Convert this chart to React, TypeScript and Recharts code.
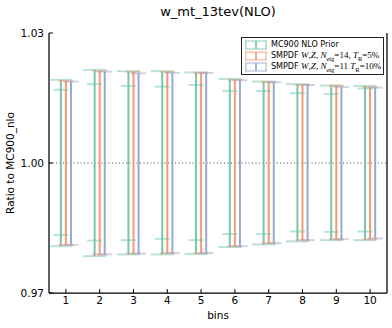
import React from "react";

import { ComposedChart, ErrorBar, Label, Legend, ReferenceLine, Scatter, XAxis, YAxis } from "recharts";

const bins = [1, 2, 3, 4, 5, 6, 7, 8, 9, 10];
const xTicks = [1, 2, 3, 4, 5, 6, 7, 8, 9, 10];
const yTicks = [0.97, 1.0, 1.03];

// MC900 NLO prior: outer band and inner (68%) band
const priorHigh = [1.0192, 1.0215, 1.0212, 1.0212, 1.0209, 1.0194, 1.0188, 1.0182, 1.0179, 1.0178];
const priorLow = [0.9808, 0.9785, 0.9789, 0.9789, 0.979, 0.9806, 0.9812, 0.9819, 0.9822, 0.9822];
const priorInnerHigh = [1.0169, 1.0182, 1.0178, 1.0176, 1.018, 1.0166, 1.0166, 1.0161, 1.0159, 1.0172];
const priorInnerLow = [0.9834, 0.9821, 0.9822, 0.9825, 0.9822, 0.9836, 0.9836, 0.9842, 0.9841, 0.9842];

// SMPDF Neig=14, TR=5%
const n14High = [1.0189, 1.0212, 1.021, 1.021, 1.0208, 1.0192, 1.0187, 1.018, 1.0178, 1.0175];
const n14Low = [0.9811, 0.9789, 0.9791, 0.9792, 0.9792, 0.9808, 0.9815, 0.9822, 0.9824, 0.9824];

// SMPDF Neig=11, TR=10%
const n11High = [1.0188, 1.0211, 1.0207, 1.0208, 1.0208, 1.0191, 1.0186, 1.018, 1.0175, 1.0174];
const n11Low = [0.9811, 0.9789, 0.9791, 0.9792, 0.9792, 0.9808, 0.9815, 0.9822, 0.9824, 0.9826];

const GREEN = "#66c2a5";
const ORANGE = "#fc8d62";
const BLUE = "#8da0cb";

const SHIFT = 0.15;

const bars = (high: number[], low: number[], shift: number) =>
  bins.map((b, i) => {
    const mid = (high[i] + low[i]) / 2;
    return { x: b + shift, y: mid, err: [mid - low[i], high[i] - mid] };
  });

const caps = (high: number[], low: number[], shift: number) =>
  bins.flatMap((b, i) => [
    { x: b + shift, y: high[i] },
    { x: b + shift, y: low[i] },
  ]);

const capShape = (half: number, color: string) => (props: any) =>
  (
    <line
      x1={props.cx - half}
      x2={props.cx + half}
      y1={props.cy}
      y2={props.cy}
      stroke={color}
      strokeOpacity={0.45}
      strokeWidth={2}
    />
  );

const noDot = () => <g />;

const math: React.CSSProperties = { fontFamily: "'Liberation Serif', serif", fontSize: 9 };
const sub: React.CSSProperties = { fontSize: 6.5 };

const Marker = ({ color }: { color: string }) => (
  <svg width={24} height={10} style={{ marginRight: 3, flex: "none" }}>
    <line x1={1} x2={23} y1={1} y2={1} stroke={color} strokeOpacity={0.5} strokeWidth={1.5} />
    <line x1={1} x2={23} y1={9} y2={9} stroke={color} strokeOpacity={0.5} strokeWidth={1.5} />
    <line x1={2} x2={2} y1={1} y2={9} stroke={color} strokeOpacity={0.6} strokeWidth={1.5} />
    <line x1={12} x2={12} y1={1} y2={9} stroke={color} strokeWidth={1.5} />
    <line x1={22} x2={22} y1={1} y2={9} stroke={color} strokeOpacity={0.6} strokeWidth={1.5} />
  </svg>
);

const renderLegend = () => (
  <div
    style={{
      border: "1px solid #222",
      background: "#fff",
      padding: "1px 3px 2px 2px",
      fontFamily: "'DejaVu Sans', sans-serif",
      fontSize: 8,
      color: "#000",
      width: 136,
      whiteSpace: "nowrap",
    }}
  >
    <div style={{ display: "flex", alignItems: "center", height: 11 }}>
      <Marker color={GREEN} />
      <span>MC900 NLO Prior</span>
    </div>
    <div style={{ display: "flex", alignItems: "center", height: 11 }}>
      <Marker color={ORANGE} />
      <span>
        SMPDF <span style={math}><i>W</i>,<i>Z</i>, <i>N</i><sub style={sub}>eig</sub>=14, <i>T</i>
        <sub style={sub}>R</sub>=5%</span>
      </span>
    </div>
    <div style={{ display: "flex", alignItems: "center", height: 11 }}>
      <Marker color={BLUE} />
      <span>
        SMPDF <span style={math}><i>W</i>,<i>Z</i>, <i>N</i><sub style={sub}>eig</sub>=11 <i>T</i>
        <sub style={sub}>R</sub>=10%</span>
      </span>
    </div>
  </div>
);

const tickFont = { fontFamily: "'DejaVu Sans', sans-serif", fontSize: 10.5, fill: "#000" };
const axisLine = { stroke: "#000", strokeWidth: 1.25 };

const App = () => {
  return (
    <div style={{ position: "absolute", left: 0, top: 0, background: "#fff" }}>
      <div
        style={{
          position: "absolute",
          left: 49,
          width: 338,
          top: 4,
          textAlign: "center",
          fontFamily: "'DejaVu Sans', sans-serif",
          fontSize: 13,
          lineHeight: "16px",
          zIndex: 2,
        }}
      >
        w_mt_13tev(NLO)
      </div>
      <ComposedChart width={392} height={328} margin={{ top: 33, right: 0, bottom: 0, left: 0 }}>
        <XAxis
          dataKey="x"
          type="number"
          domain={[0.5, 10.5]}
          ticks={xTicks}
          height={35}
          tickSize={-4}
          tickMargin={8}
          tick={tickFont}
          axisLine={axisLine}
          tickLine={{ stroke: "#000" }}
          allowDataOverflow
        >
          <Label value="bins" position="insideBottom" offset={9} style={{ fontFamily: "'DejaVu Sans', sans-serif", fontSize: 10.5, fill: "#000" }} />
        </XAxis>
        <XAxis
          xAxisId="top"
          orientation="top"
          dataKey="x"
          type="number"
          domain={[0.5, 10.5]}
          ticks={xTicks}
          height={0}
          tickSize={-4}
          tick={false}
          axisLine={axisLine}
          tickLine={{ stroke: "#000" }}
          allowDataOverflow
        />
        <YAxis
          dataKey="y"
          type="number"
          domain={[0.97, 1.03]}
          ticks={yTicks}
          tickFormatter={(v: number) => v.toFixed(2)}
          width={49}
          tickSize={-4}
          tickMargin={9}
          tick={tickFont}
          axisLine={axisLine}
          tickLine={{ stroke: "#000" }}
          allowDataOverflow
        >
          <Label
            value="Ratio to MC900_nlo"
            angle={-90}
            position="insideLeft"
            offset={10}
            style={{ textAnchor: "middle", fontFamily: "'DejaVu Sans', sans-serif", fontSize: 10.5, fill: "#000" }}
          />
        </YAxis>
        <YAxis
          yAxisId="right"
          orientation="right"
          dataKey="y"
          type="number"
          domain={[0.97, 1.03]}
          ticks={yTicks}
          width={5}
          tickSize={-4}
          tick={false}
          axisLine={axisLine}
          tickLine={{ stroke: "#000" }}
          allowDataOverflow
        />
        <ReferenceLine y={1} stroke="#444" strokeDasharray="1 2.5" strokeWidth={1} />

        <Scatter data={bars(priorHigh, priorLow, -SHIFT)} shape={noDot} isAnimationActive={false} legendType="none">
          <ErrorBar dataKey="err" direction="y" width={0} stroke={GREEN} strokeOpacity={0.9} strokeWidth={2} isAnimationActive={false} />
        </Scatter>
        <Scatter data={bars(n14High, n14Low, 0)} shape={noDot} isAnimationActive={false} legendType="none">
          <ErrorBar dataKey="err" direction="y" width={0} stroke={ORANGE} strokeOpacity={0.9} strokeWidth={2} isAnimationActive={false} />
        </Scatter>
        <Scatter data={bars(n11High, n11Low, SHIFT)} shape={noDot} isAnimationActive={false} legendType="none">
          <ErrorBar dataKey="err" direction="y" width={0} stroke={BLUE} strokeOpacity={0.9} strokeWidth={2} isAnimationActive={false} />
        </Scatter>

        <Scatter data={caps(priorHigh, priorLow, -SHIFT)} shape={capShape(11.5, GREEN)} isAnimationActive={false} legendType="none" />
        <Scatter data={caps(priorInnerHigh, priorInnerLow, -SHIFT)} shape={capShape(7.5, GREEN)} isAnimationActive={false} legendType="none" />
        <Scatter data={caps(n14High, n14Low, 0)} shape={capShape(7.5, ORANGE)} isAnimationActive={false} legendType="none" />
        <Scatter data={caps(n11High, n11Low, SHIFT)} shape={capShape(7.5, BLUE)} isAnimationActive={false} legendType="none" />

        <Legend
          layout="horizontal"
          verticalAlign="middle"
          align="center"
          wrapperStyle={{ left: 241, top: 37, width: "auto" }}
          content={renderLegend}
        />
      </ComposedChart>
    </div>
  );
};

export default App;
